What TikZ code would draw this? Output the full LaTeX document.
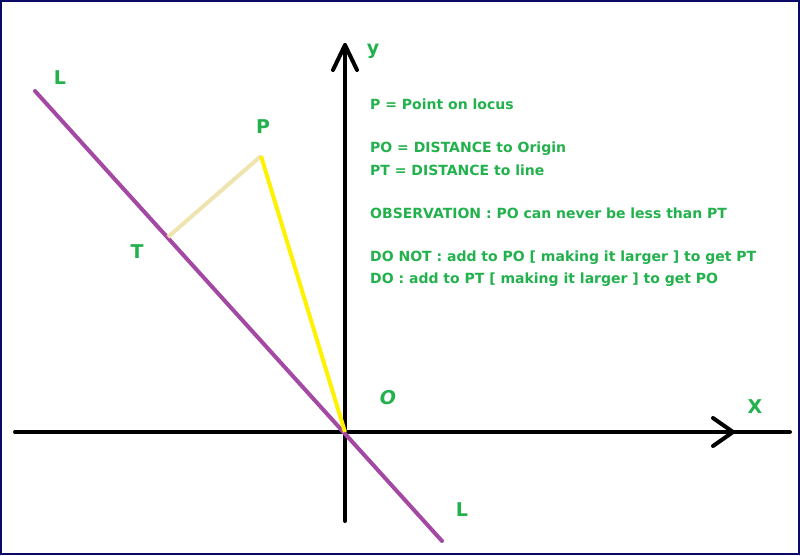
\documentclass[tikz,border=0pt]{standalone}
\usepackage{fontspec}
\setmainfont{DejaVu Sans}
\usetikzlibrary{calc}
\definecolor{pgreen}{HTML}{22B14C}
\definecolor{ppurple}{HTML}{A349A4}
\definecolor{pyellow}{HTML}{FFF200}
\definecolor{pbeige}{HTML}{EFE4B0}
\definecolor{pnavy}{HTML}{0A0A64}
\tikzset{
  axis/.style={line width=4pt, black, line cap=round},
  chev/.style={line width=4pt, black, line cap=round, line join=round},
  lineL/.style={line width=4pt, ppurple, line cap=round},
  bigl/.style={font=\fontsize{19}{19}\selectfont\bfseries, text=pgreen, inner sep=0pt},
  note/.style={font=\fontsize{14}{14}\selectfont\bfseries, text=pgreen, inner sep=0pt, anchor=west},
}
\begin{document}
\begin{tikzpicture}[x=1pt,y=-1pt]
\useasboundingbox (0,0) rectangle (800,555);
\fill[white] (0,0) rectangle (800,555);
\draw[pnavy, line width=2pt] (1,1) rectangle (799,554);
% points
\coordinate (O) at (345,432);
\coordinate (xl) at (15,432);
\coordinate (xr) at (790,432);
\coordinate (xt) at (733,432);
\coordinate (yb) at (345,521);
\coordinate (yt) at (345,45);
\coordinate (L1) at (35,91);
\coordinate (L2) at (442,541);
\coordinate (P) at (261,156);
\coordinate (T) at (168,237);
% axes
\draw[axis] (xl) -- (xr);
\draw[chev] ($(xt)+(-20,-14)$) -- (xt) -- ($(xt)+(-20,14)$);
\draw[axis] (yb) -- (yt);
\draw[chev] ($(yt)+(-12,25)$) -- (yt) -- ($(yt)+(12,25)$);
% lines
\draw[lineL] (L1) -- (L2);
\draw[pbeige, line width=4pt] (T) -- (P);
\draw[pyellow, line width=4pt] (P) -- (O);
% labels
\node[bigl] (lL1) at (60,78) {L};
\node[bigl] (lP) at (263,127) {P};
\node[bigl] (lT) at (137,252) {T};
\node[bigl] (lY) at (373,51) {y};
\node[bigl, font=\fontsize{19}{19}\selectfont\bfseries\itshape] (lO) at (388,398) {O};
\node[bigl] (lX) at (755,407) {X};
\node[bigl] (lL2) at (462,510) {L};
% notes
\node[note] (n1) at (370,104) {P = Point on locus};
\node[note] (n2) at (370,149) {PO = DISTANCE to Origin};
\node[note] (n3) at (370,170) {PT = DISTANCE to line};
\node[note] (n4) at (370,213) {OBSERVATION : PO can never be less than PT};
\node[note] (n5) at (370,258) {DO NOT : add to PO [ making it larger ] to get PT};
\node[note] (n6) at (370,280) {DO : add to PT [ making it larger ] to get PO};
\end{tikzpicture}
\end{document}
